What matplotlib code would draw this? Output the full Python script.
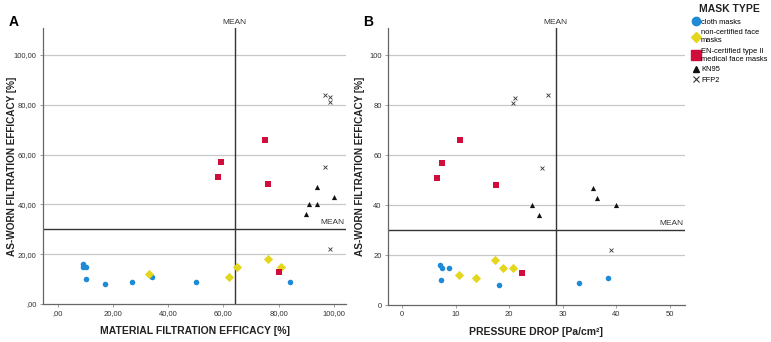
import matplotlib
matplotlib.use("Agg")
import matplotlib.pyplot as plt
from matplotlib.lines import Line2D
import matplotlib.transforms as mtransforms

plt.rcParams['font.family'] = ['Liberation Sans', 'DejaVu Sans']

# panel A: material filtration efficacy vs as-worn efficacy
a_cloth_x = [9, 9, 10, 10, 17, 27, 34, 50, 84]
a_cloth_y = [16, 15, 15, 10, 8, 9, 11, 9, 9]
a_noncert_x = [33, 62, 65, 76, 81]
a_noncert_y = [12, 11, 15, 18, 15]
a_medical_x = [58, 59, 75, 76, 80]
a_medical_y = [51, 57, 66, 48, 13]
a_kn95_x = [94, 100, 91, 94, 90]
a_kn95_y = [47, 43, 40, 40, 36]
a_ffp2_x = [96.7, 98.7, 98.7, 96.7, 98.7]
a_ffp2_y = [84, 83, 81, 55, 22]
a_mean_x, a_mean_y = 64, 30

# panel B: pressure drop vs as-worn efficacy
b_cloth_x = [7.0, 7.5, 8.7, 7.3, 18.1, 33.0, 38.5]
b_cloth_y = [16, 15, 15, 10, 8, 9, 11]
b_noncert_x = [10.7, 13.8, 17.3, 18.8, 20.7]
b_noncert_y = [12, 11, 18, 15, 15]
b_medical_x = [6.5, 7.5, 10.8, 17.6, 22.4]
b_medical_y = [51, 57, 66, 48, 13]
b_kn95_x = [35.6, 36.4, 39.9, 24.2, 25.5]
b_kn95_y = [47, 43, 40, 40, 36]
b_ffp2_x = [21.1, 20.8, 27.2, 26.1, 39.1]
b_ffp2_y = [83, 81, 84, 55, 22]
b_mean_x, b_mean_y = 28.7, 30

yticks = [0, 20, 40, 60, 80, 100]
a_xticks = [0, 20, 40, 60, 80, 100]
b_xticks = [0, 10, 20, 30, 40, 50]

c_blue = '#1f8ad6'
c_yellow = '#e3d61c'
c_red = '#d10d3c'
c_black = '#111111'

fig = plt.figure(figsize=(7.71, 3.42), dpi=100)
axA = fig.add_axes([0.0558, 0.111, 0.393, 0.807])
axB = fig.add_axes([0.503, 0.108, 0.385, 0.810])


def draw(ax, cloth, noncert, medical, kn95, ffp2, mx, my):
    ax.scatter(*cloth, s=16, marker='o', color=c_blue, zorder=3, linewidths=0)
    ax.scatter(*noncert, s=22, marker='D', color=c_yellow, zorder=3, linewidths=0)
    ax.scatter(*medical, s=24, marker='s', color=c_red, zorder=3, linewidths=0)
    ax.scatter(*kn95, s=14, marker='^', color=c_black, zorder=3, linewidths=0)
    ax.scatter(*ffp2, s=8, marker='x', color='#333333', zorder=3, linewidths=0.6)
    for y in yticks[1:]:
        ax.axhline(y, color='#c8c8c8', lw=0.9, zorder=1)
    ax.axvline(mx, color='#333333', lw=1.0, zorder=2)
    ax.axhline(my, color='#333333', lw=1.0, zorder=2)
    tr = mtransforms.blended_transform_factory(ax.transData, ax.transAxes)
    ax.text(mx, 1.008, 'MEAN', transform=tr, ha='center', va='bottom',
            fontsize=6, color='#333333')
    tr2 = mtransforms.blended_transform_factory(ax.transAxes, ax.transData)
    ax.text(0.995, my + 1.2, 'MEAN', transform=tr2, ha='right', va='bottom',
            fontsize=6, color='#333333')
    ax.set_ylim(0, 110.8)
    ax.set_yticks(yticks)
    for s in ['top', 'right']:
        ax.spines[s].set_visible(False)
    for s in ['left', 'bottom']:
        ax.spines[s].set_color('#666666')
        ax.spines[s].set_linewidth(0.9)
    ax.tick_params(labelsize=5.5, length=2, width=0.5, colors='#777777',
                   labelcolor='#333333', pad=2.5)
    ax.set_ylabel('AS-WORN FILTRATION EFFICACY [%]', fontsize=7.2,
                  fontweight='bold', color='#222222')


draw(axA, (a_cloth_x, a_cloth_y), (a_noncert_x, a_noncert_y),
     (a_medical_x, a_medical_y), (a_kn95_x, a_kn95_y), (a_ffp2_x, a_ffp2_y),
     a_mean_x, a_mean_y)
axA.set_xlim(-5.4, 104.4)
axA.set_xticks(a_xticks)
axA.set_xticklabels(['%d,00' % v if v else ',00' for v in a_xticks])
axA.set_yticklabels(['%d,00' % v if v else ',00' for v in yticks])
axA.set_xlabel('MATERIAL FILTRATION EFFICACY [%]', fontsize=7.5,
               fontweight='bold', color='#222222')
axA.yaxis.set_label_coords(-0.086, 0.5)
axA.xaxis.set_label_coords(0.5, -0.078)

draw(axB, (b_cloth_x, b_cloth_y), (b_noncert_x, b_noncert_y),
     (b_medical_x, b_medical_y), (b_kn95_x, b_kn95_y), (b_ffp2_x, b_ffp2_y),
     b_mean_x, b_mean_y)
axB.set_xlim(-2.7, 52.8)
axB.set_xticks(b_xticks)
axB.set_xlabel('PRESSURE DROP [Pa/cm²]', fontsize=7.5,
               fontweight='bold', color='#222222')
axB.yaxis.set_label_coords(-0.077, 0.5)
axB.xaxis.set_label_coords(0.5, -0.078)

fig.text(0.011, 0.925, 'A', fontsize=10, fontweight='bold')
fig.text(0.471, 0.925, 'B', fontsize=10, fontweight='bold')

# legend
fig.text(0.986, 0.975, 'MASK TYPE', fontsize=7.5, fontweight='bold',
         ha='right', va='center', color='#222222')
handles = [
    Line2D([], [], ls='', marker='o', color=c_blue, markersize=6),
    Line2D([], [], ls='', marker='D', color=c_yellow, markersize=5.5),
    Line2D([], [], ls='', marker='s', color=c_red, markersize=6.5),
    Line2D([], [], ls='', marker='^', color=c_black, markersize=5),
    Line2D([], [], ls='', marker='x', color='#333333', markersize=4.5,
           markeredgewidth=0.8),
]
labels = ['cloth masks', 'non-certified face\nmasks',
          'EN-certified type II\nmedical face masks', 'KN95', 'FFP2']
leg = fig.legend(handles, labels, loc='upper left',
                 bbox_to_anchor=(0.899, 0.945), frameon=False, fontsize=5.4,
                 handletextpad=0.25, handlelength=0.8, labelspacing=0.45,
                 borderaxespad=0, borderpad=0)

fig.savefig('out.png', dpi=100)
